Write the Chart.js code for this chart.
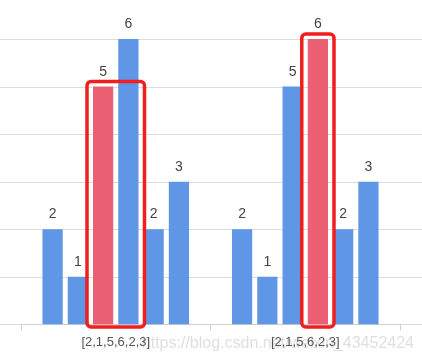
<!DOCTYPE html>
<html>
<head>
<meta charset="utf-8">
<script src="https://cdn.jsdelivr.net/npm/chart.js@4.4.0/dist/chart.umd.min.js"></script>
<style>
html,body{margin:0;padding:0;background:#fff;}
#wrap{width:422px;height:361px;position:relative;}
</style>
</head>
<body>
<div id="wrap"><canvas id="c"></canvas></div>
<script>
const categories = ['[2,1,5,6,2,3]', '[2,1,5,6,2,3]'];
const heights = [2, 1, 5, 6, 2, 3];
// highlighted bar per group (index into heights)
const highlighted = [2, 3];
// outline boxes: [group, fromBar, toBar]
const outlines = [[0, 2, 3], [1, 3, 3]];
const yTicks = [0, 1, 2, 3, 4, 5, 6];
const watermark = 'https://blog.csdn.net/weixin_43452424';

const BLUE = '#5f96e6';
const RED = '#eb5f73';

const datasets = heights.map((h, i) => ({
  label: 'b' + i,
  data: categories.map(() => h),
  backgroundColor: categories.map((_, g) => highlighted[g] === i ? RED : BLUE),
  barPercentage: 0.8,
  categoryPercentage: 0.8
}));

const gridPlugin = {
  id: 'grid',
  beforeDraw(chart) {
    const ctx = chart.ctx, y = chart.scales.y;
    ctx.save();
    ctx.strokeStyle = '#dcdcdc';
    ctx.lineWidth = 1;
    yTicks.forEach(v => {
      const py = Math.round(y.getPixelForValue(v)) + 0.5;
      ctx.beginPath();
      ctx.moveTo(0, py);
      ctx.lineTo(chart.width, py);
      ctx.stroke();
    });
    // watermark
    ctx.font = '16px "Liberation Sans", Arial, sans-serif';
    ctx.fillStyle = 'rgba(210,210,210,0.7)';
    ctx.textAlign = 'right';
    ctx.textBaseline = 'alphabetic';
    ctx.fillText(watermark, 414, 348);
    ctx.restore();
  },
  afterDatasetsDraw(chart) {
    const ctx = chart.ctx;
    ctx.save();
    ctx.font = '14px "Liberation Sans", Arial, sans-serif';
    ctx.fillStyle = '#444';
    ctx.textAlign = 'center';
    ctx.textBaseline = 'alphabetic';
    chart.data.datasets.forEach((ds, i) => {
      chart.getDatasetMeta(i).data.forEach(el => {
        ctx.fillText(String(ds.data[0]), el.x, el.y - 11);
      });
    });
    // outlines
    ctx.strokeStyle = '#f01e1e';
    ctx.lineWidth = 3.5;
    outlines.forEach(([g, a, b]) => {
      const ea = chart.getDatasetMeta(a).data[g];
      const eb = chart.getDatasetMeta(b).data[g];
      const eh = chart.getDatasetMeta(highlighted[g]).data[g];
      const left = ea.x - ea.width / 2 - 6;
      const right = eb.x + eb.width / 2 + 6;
      const t = eh.y - 5;
      const bot = ea.base + 2.5;
      ctx.beginPath();
      ctx.roundRect(left, t, right - left, bot - t, 4);
      ctx.stroke();
    });
    ctx.restore();
  }
};

new Chart(document.getElementById('c'), {
  type: 'bar',
  data: { labels: categories, datasets },
  options: {
    responsive: true,
    maintainAspectRatio: false,
    animation: false,
    layout: { padding: { top: 39, left: 21, right: 22, bottom: 7 } },
    plugins: { legend: { display: false }, tooltip: { enabled: false } },
    scales: {
      x: {
        grid: { display: true, drawOnChartArea: false, drawTicks: true, tickLength: 6, color: '#d0d0d0', offset: true },
        border: { display: true, color: '#d0d0d0' },
        ticks: { color: '#555', font: { size: 13, family: '"Liberation Sans", Arial, sans-serif' }, padding: 4, maxRotation: 0 }
      },
      y: { display: false, min: 0, max: 6 }
    }
  },
  plugins: [gridPlugin]
});
</script>
</body>
</html>
